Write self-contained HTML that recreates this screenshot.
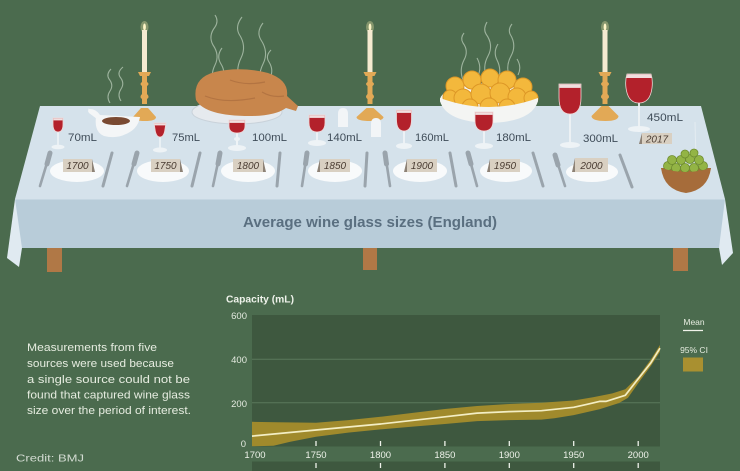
<!DOCTYPE html>
<html><head><meta charset="utf-8"><style>
html,body{margin:0;padding:0;background:#4b6b4e;}
svg{display:block;}
text{font-family:"Liberation Sans",sans-serif;}
</style></head><body>
<svg width="740" height="471" viewBox="0 0 740 471" xmlns="http://www.w3.org/2000/svg">
<rect x="0" y="0" width="740" height="471" fill="#4b6b4e"/>

<!-- steam -->
<g fill="none" stroke="#b9cbb8" stroke-width="1.1" opacity="0.75">
<path d="M110,103 q-4,-6 0,-12 q4,-6 -1,-12 q-3,-5 2,-10"/>
<path d="M121,101 q-4,-6 0,-12 q4,-6 -1,-12 q-3,-5 3,-10"/>
<path d="M214,85 q-4,-10 1,-20 q5,-10 -2,-20 q-5,-9 2,-18 q4,-6 0,-12"/>
<path d="M222,80 q4,-8 -1,-16 q-5,-8 1,-16"/>
<path d="M240,82 q-5,-12 1,-24 q6,-12 -2,-24 q-4,-8 3,-17"/>
<path d="M262,88 q-5,-12 1,-24 q6,-12 -2,-24 q-5,-8 2,-17"/>
<path d="M270,78 q4,-8 -1,-16 q-4,-6 2,-12"/>
<path d="M463,80 q-4,-10 1,-20 q5,-9 -1,-17 q-3,-5 1,-10"/>
<path d="M478,76 q4,-9 -1,-18"/>
<path d="M487,78 q-5,-11 1,-22 q6,-11 -2,-22 q-3,-5 1,-12"/>
<path d="M498,80 q4,-10 -1,-20 q-4,-8 1,-16"/>
<path d="M510,78 q-5,-11 1,-22 q6,-11 -1,-22 q-2,-5 2,-10"/>
<path d="M518,75 q4,-8 -1,-16"/>
</g>

<!-- table -->
<polygon points="40,106 701,106 725,199 15,199" fill="#d5e2eb"/>
<rect x="15" y="199" width="710" height="49" fill="#b8ccd9"/>
<line x1="15" y1="199.5" x2="725" y2="199.5" stroke="#c6d7e2" stroke-width="1"/>
<polygon points="15,199 22,248 19,267 7,258" fill="#e0eaf1"/>
<polygon points="725,199 719,248 722,265 733,253" fill="#e0eaf1"/>
<rect x="47" y="248" width="15" height="24" fill="#b07846"/>
<rect x="363" y="248" width="14" height="22" fill="#b07846"/>
<rect x="673" y="248" width="15" height="23" fill="#b07846"/>
<text x="370" y="227" text-anchor="middle" font-size="15" font-weight="bold" fill="#5a6f80" textLength="254" lengthAdjust="spacingAndGlyphs">Average wine glass sizes (England)</text>

<!-- candles -->
<g>
<ellipse cx="144.5" cy="27" rx="4" ry="6" fill="#f3e7a8" opacity="0.35"/>
<ellipse cx="144.5" cy="27" rx="1.4" ry="3.5" fill="#fff6c8"/>
<rect x="142" y="30" width="5" height="42" fill="#f5ead0"/>
<path d="M138,72 h13 l-2,4 h-9 z M142,76 h5 v6 q3,2 0,4 v8 q3,3 0,5 v5 h-5 v-5 q-3,-2 0,-5 v-8 q-3,-2 0,-4 z M141,108 h7 l8,9 q0,4 -11,4 q-12,0 -12,-4 z" fill="#e2a956"/>
</g>
<g>
<ellipse cx="370" cy="27" rx="4" ry="6" fill="#f3e7a8" opacity="0.35"/>
<ellipse cx="370" cy="27" rx="1.4" ry="3.5" fill="#fff6c8"/>
<rect x="367.5" y="30" width="5" height="42" fill="#f5ead0"/>
<path d="M363.5,72 h13 l-2,4 h-9 z M367.5,76 h5 v6 q3,2 0,4 v8 q3,3 0,5 v5 h-5 v-5 q-3,-2 0,-5 v-8 q-3,-2 0,-4 z M366.5,108 h7 l10,9 q0,4 -13,4 q-14,0 -14,-4 z" fill="#e2a956"/>
</g>
<g>
<ellipse cx="605" cy="27" rx="4" ry="6" fill="#f3e7a8" opacity="0.35"/>
<ellipse cx="605" cy="27" rx="1.4" ry="3.5" fill="#fff6c8"/>
<rect x="602.5" y="30" width="5" height="42" fill="#f5ead0"/>
<path d="M598.5,72 h13 l-2,4 h-9 z M602.5,76 h5 v6 q3,2 0,4 v8 q3,3 0,5 v5 h-5 v-5 q-3,-2 0,-5 v-8 q-3,-2 0,-4 z M601.5,106 h7 l10,10 q0,5 -13,5 q-14,0 -14,-5 z" fill="#e2a956"/>
</g>

<!-- gravy boat -->
<path d="M96,117 q-8,-8 -6,-6 q-4,-3 0,-2 q6,0 10,6 L140,117 q-2,12 -14,17 q-10,5 -22,2 q-10,-4 -8,-19 z" fill="#f4f6f7"/>
<path d="M89,113 q-3,-4 3,-3 l8,7 l-3,2 z" fill="#f4f6f7"/>
<ellipse cx="116" cy="121" rx="14" ry="4" fill="#7a4a32"/>

<!-- turkey -->
<ellipse cx="237" cy="112" rx="45" ry="12" fill="#e6eaee" stroke="#c9d2da" stroke-width="1"/>
<path d="M196,100 Q192,78 215,72 Q240,66 268,73 Q289,80 287,96 L298,106 L296,111 L286,108 Q275,116 250,116 Q205,116 196,100 Z" fill="#c8864c"/>
<path d="M205,96 q20,8 50,2 M230,80 q15,6 35,2 M262,92 q10,6 22,4" fill="none" stroke="#b37442" stroke-width="1.2"/>

<!-- potatoes -->
<ellipse cx="489" cy="100" rx="49" ry="17" fill="#f4f5f3"/>
<g fill="#f3b83c" stroke="#dd9726" stroke-width="1">
<circle cx="455" cy="86" r="9"/><circle cx="472" cy="80" r="9"/><circle cx="490" cy="78" r="9"/>
<circle cx="507" cy="80" r="9"/><circle cx="523" cy="87" r="9"/><circle cx="450" cy="97" r="7"/>
<circle cx="463" cy="98" r="9"/><circle cx="481" cy="94" r="10"/><circle cx="500" cy="93" r="10"/>
<circle cx="517" cy="97" r="9"/><circle cx="531" cy="98" r="7"/><circle cx="470" cy="107" r="8"/>
<circle cx="489" cy="107" r="9"/><circle cx="507" cy="107" r="8"/>
</g>
<path d="M440,98 Q489,116 538,98 L538,101 Q532,122 489,123 Q446,122 440,101 Z" fill="#f4f5f3"/>

<!-- salt shaker 1 -->
<path d="M338,127 v-13 q0,-6 5,-6 q5,0 5,6 v13 z" fill="#f2f5f7"/>
<path d="M371,137 v-13 q0,-6 5,-6 q5,0 5,6 v13 z" fill="#f2f5f7"/>

<!-- plates, cutlery, cards -->
<g stroke="#9aa4ac" stroke-linecap="round">
<line x1="50" y1="153" x2="40" y2="186" stroke-width="2.6"/><line x1="50" y1="153" x2="47" y2="164" stroke-width="5"/>
<line x1="112" y1="153" x2="103" y2="186" stroke-width="3"/>
<line x1="137" y1="153" x2="127" y2="186" stroke-width="2.6"/><line x1="137" y1="153" x2="134" y2="164" stroke-width="5"/>
<line x1="200" y1="153" x2="192" y2="186" stroke-width="3"/>
<line x1="220" y1="153" x2="213" y2="186" stroke-width="2.6"/><line x1="220" y1="153" x2="218" y2="164" stroke-width="5"/>
<line x1="280" y1="153" x2="277" y2="186" stroke-width="3"/>
<line x1="307" y1="153" x2="302" y2="186" stroke-width="2.6"/><line x1="307" y1="153" x2="305.5" y2="164" stroke-width="5"/>
<line x1="367" y1="153" x2="365" y2="186" stroke-width="3"/>
<line x1="385" y1="153" x2="390" y2="186" stroke-width="2.6"/><line x1="385" y1="153" x2="386.5" y2="164" stroke-width="5"/>
<line x1="450" y1="153" x2="456" y2="186" stroke-width="3"/>
<line x1="468" y1="153" x2="477" y2="186" stroke-width="2.6"/><line x1="468" y1="153" x2="471" y2="164" stroke-width="5"/>
<line x1="533" y1="153" x2="543" y2="186" stroke-width="3"/>
<line x1="555" y1="155" x2="565" y2="186" stroke-width="2.6"/><line x1="555" y1="155" x2="558" y2="165" stroke-width="5"/>
<line x1="620" y1="155" x2="632" y2="187" stroke-width="3"/>
</g>
<g fill="#f8fafb">
<ellipse cx="77" cy="171" rx="27" ry="11"/><ellipse cx="163" cy="171" rx="26" ry="11"/>
<ellipse cx="248" cy="171" rx="27" ry="11"/><ellipse cx="335" cy="171" rx="27" ry="11"/>
<ellipse cx="420" cy="171" rx="27" ry="11"/><ellipse cx="506" cy="171" rx="26" ry="11"/>
<ellipse cx="592" cy="172" rx="26" ry="10"/>
</g>
<g fill="#d9d0c2">
<rect x="63" y="159" width="29" height="13"/><rect x="151" y="159" width="29" height="13"/>
<rect x="233" y="159" width="30" height="13"/><rect x="320" y="159" width="30" height="13"/>
<rect x="407" y="159" width="30" height="13"/><rect x="490" y="159" width="30" height="13"/>
<rect x="575" y="158" width="33" height="14"/><rect x="642" y="133" width="30" height="11"/>
</g>
<g fill="#8d8276">
<polygon points="92,159 95,172 92,172"/><polygon points="180,159 183,172 180,172"/>
<polygon points="263,159 266,172 263,172"/><polygon points="320,159 317,172 320,172"/>
<polygon points="407,159 404,172 407,172"/><polygon points="490,159 487,172 490,172"/>
<polygon points="575,158 572,172 575,172"/><polygon points="642,133 639,144 642,144"/>
</g>
<g font-family="Liberation Serif, serif" font-style="italic" font-size="10" fill="#4a3c32" text-anchor="middle">
<text x="77.5" y="169">1700</text><text x="165.5" y="169">1750</text><text x="248" y="169">1800</text>
<text x="335" y="169">1850</text><text x="422" y="169">1900</text><text x="505" y="169">1950</text>
<text x="591.5" y="169">2000</text><text x="657" y="142.5">2017</text>
</g>

<!-- sprouts -->
<line x1="695" y1="122" x2="696" y2="160" stroke="#eef3f6" stroke-width="1" opacity="0.6"/>
<path d="M661,168 L711,168 Q708,190 686,193 Q664,190 661,168 Z" fill="#a66c3a"/>
<g fill="#93b445" stroke="#6f8d30" stroke-width="0.8">
<circle cx="668" cy="166" r="4.5"/><circle cx="676" cy="168" r="4.5"/><circle cx="685" cy="168" r="4.5"/>
<circle cx="694" cy="168" r="4.5"/><circle cx="703" cy="166" r="4.5"/><circle cx="672" cy="160" r="4.5"/>
<circle cx="681" cy="160" r="4.5"/><circle cx="690" cy="159" r="4.5"/><circle cx="699" cy="160" r="4.5"/>
<circle cx="685" cy="154" r="4"/><circle cx="694" cy="153" r="4"/>
</g>
<path d="M661,168 Q686,176 711,168 Q709,173 708,175 Q686,182 664,175 Z" fill="#a66c3a"/>

<!-- glasses -->
<g fill="#eef3f6">
<line x1="58" y1="132" x2="58" y2="147" stroke="#eef3f6" stroke-width="1.6"/><ellipse cx="58" cy="147" rx="6.5" ry="2.3"/>
<line x1="160" y1="137" x2="160" y2="150" stroke="#eef3f6" stroke-width="1.6"/><ellipse cx="160" cy="150" rx="7" ry="2.5"/>
<line x1="237" y1="133" x2="237" y2="148" stroke="#eef3f6" stroke-width="2"/><ellipse cx="237" cy="139" rx="3" ry="2"/><ellipse cx="237" cy="148" rx="9" ry="3"/>
<line x1="317" y1="132" x2="317" y2="143" stroke="#eef3f6" stroke-width="1.8"/><ellipse cx="317" cy="143" rx="9" ry="3"/>
<line x1="404" y1="131" x2="404" y2="147" stroke="#eef3f6" stroke-width="1.8"/><ellipse cx="404" cy="146" rx="8" ry="3"/>
<line x1="484" y1="131" x2="484" y2="147" stroke="#eef3f6" stroke-width="1.8"/><ellipse cx="484" cy="146" rx="9" ry="3"/>
<line x1="570" y1="114" x2="570" y2="145" stroke="#eef3f6" stroke-width="1.8"/><ellipse cx="570" cy="145" rx="10" ry="3"/>
<line x1="639" y1="103" x2="639" y2="129" stroke="#eef3f6" stroke-width="1.8"/><ellipse cx="639" cy="129" rx="11" ry="3"/>
</g>
<g fill="#b3212b" stroke="#efd6d6" stroke-width="0.8">
<path d="M53,118 L63,118 L63,124.3 Q63,132 58,132 Q53,132 53,124.3 Z"/>
<path d="M154,123 L166,123 L165,129 Q164,137 160,137 Q156,137 155,129 Z"/>
<path d="M229,120 L245,120 L245,125.9 Q245,133 237,133 Q229,133 229,125.9 Z"/>
<path d="M309,115 L325,115 L325,122.7 Q325,132 317,132 Q309,132 309,122.7 Z"/>
<path d="M396.5,110 L411.5,110 L411.5,119.5 Q411.5,131 404,131 Q396.5,131 396.5,119.5 Z"/>
<path d="M475,112 L493,112 L493,120.6 Q493,131 484,131 Q475,131 475,120.6 Z"/>
<path d="M559,84 L581,84 L581,97.5 Q581,114 570,114 Q559,114 559,97.5 Z"/>
<path d="M627,74 Q625,80 626,88 Q628,103 639,103 Q650,103 652,88 Q653,80 651,74 Z"/>
</g>
<g fill="#f1dede">
<rect x="53.5" y="118.4" width="9" height="2"/><rect x="154.5" y="123.4" width="11" height="2"/>
<rect x="229.5" y="120.4" width="15" height="2.5"/><rect x="309.5" y="115.4" width="15" height="2.5"/>
<rect x="397" y="110.4" width="14" height="2.5"/><rect x="475.5" y="112.4" width="17" height="2.5"/>
<rect x="559.5" y="84.4" width="21" height="3.5"/><path d="M627.5,74.4 L650.5,74.4 Q651.5,76 651.6,78 L626.4,78 Q626.5,76 627.5,74.4 Z"/>
</g>

<!-- glass labels -->
<g font-size="11" fill="#3f4c58">
<text x="68" y="141" textLength="29" lengthAdjust="spacingAndGlyphs">70mL</text>
<text x="172" y="141" textLength="28" lengthAdjust="spacingAndGlyphs">75mL</text>
<text x="252" y="141" textLength="35" lengthAdjust="spacingAndGlyphs">100mL</text>
<text x="327" y="141" textLength="35" lengthAdjust="spacingAndGlyphs">140mL</text>
<text x="415" y="141" textLength="34" lengthAdjust="spacingAndGlyphs">160mL</text>
<text x="496" y="141" textLength="35" lengthAdjust="spacingAndGlyphs">180mL</text>
<text x="583" y="142" textLength="35" lengthAdjust="spacingAndGlyphs">300mL</text>
<text x="647" y="121" textLength="36" lengthAdjust="spacingAndGlyphs">450mL</text>
</g>

<!-- left text -->
<g font-size="11" fill="#e6ece0">
<text x="27" y="351" textLength="130" lengthAdjust="spacingAndGlyphs">Measurements from five</text>
<text x="27" y="367" textLength="147" lengthAdjust="spacingAndGlyphs">sources were used because</text>
<text x="27" y="383" textLength="163" lengthAdjust="spacingAndGlyphs">a single source could not be</text>
<text x="27" y="398.5" textLength="163" lengthAdjust="spacingAndGlyphs">found that captured wine glass</text>
<text x="27" y="414" textLength="164" lengthAdjust="spacingAndGlyphs">size over the period of interest.</text>
</g>
<text x="16" y="461.5" font-size="10.5" fill="#d3dbd2" textLength="68" lengthAdjust="spacingAndGlyphs">Credit: BMJ</text>

<!-- chart -->
<text x="226" y="302.5" font-size="10" font-weight="bold" fill="#eef2ea" textLength="68" lengthAdjust="spacingAndGlyphs">Capacity (mL)</text>
<rect x="252" y="315" width="408" height="131.5" fill="#3e583f"/>
<rect x="252" y="461.5" width="408" height="10" fill="#3e583f"/>
<line x1="252" y1="359.3" x2="660" y2="359.3" stroke="#5a785b" stroke-width="1"/>
<line x1="252" y1="402.7" x2="660" y2="402.7" stroke="#5a785b" stroke-width="1"/>
<g font-size="9.5" fill="#e3e9df" text-anchor="end">
<text x="247" y="319">600</text><text x="247" y="363">400</text><text x="247" y="407">200</text><text x="246" y="447">0</text>
</g>
<path fill="#a08a2c" d="M252,421.8 L277.4,422.2 L316,422.7 L348.2,420.1 L380.5,416.8 L412.7,412.9 L444.9,409 L477.1,406 L509.3,404 L541.5,402.7 L573.7,400.5 L593,397.3 L612.4,393.4 L625.3,389.2 L638.2,376.7 L651,359.3 L660,345 L660,351.7 L651,365.8 L638.2,383.2 L627.9,397.9 L618.8,403.1 L599.5,409.2 L573.7,415.1 L554.4,418.3 L541.5,419.6 L509.3,420.1 L477.1,421.1 L444.9,424 L412.7,426.6 L380.5,429.4 L348.2,432.6 L316,436.8 L290.3,441.8 L273.5,445.7 L252,446.3 Z"/>
<polyline fill="none" stroke="#f3eec4" stroke-width="1.7" stroke-linejoin="round" points="252,436.1 316,430 380.5,424 444.9,416.8 477.1,413.1 509.3,411.6 541.5,410.7 573.7,407.3 586.6,404.4 599.5,401.4 605.9,401.4 625.3,395.3 638.2,378.8 651,362.6 660,348.2"/>
<g stroke="#eef2ea" stroke-width="1.3">
<line x1="316" y1="441" x2="316" y2="446"/><line x1="380.5" y1="441" x2="380.5" y2="446"/>
<line x1="444.9" y1="441" x2="444.9" y2="446"/><line x1="509.3" y1="441" x2="509.3" y2="446"/>
<line x1="573.7" y1="441" x2="573.7" y2="446"/><line x1="638.2" y1="441" x2="638.2" y2="446"/>
<line x1="316" y1="463" x2="316" y2="468"/><line x1="380.5" y1="463" x2="380.5" y2="468"/>
<line x1="444.9" y1="463" x2="444.9" y2="468"/><line x1="509.3" y1="463" x2="509.3" y2="468"/>
<line x1="573.7" y1="463" x2="573.7" y2="468"/><line x1="638.2" y1="463" x2="638.2" y2="468"/>
</g>
<g font-size="9.5" fill="#eef2ea" text-anchor="middle">
<text x="255" y="458">1700</text><text x="316" y="458">1750</text><text x="380.5" y="458">1800</text>
<text x="444.9" y="458">1850</text><text x="509.3" y="458">1900</text><text x="573.7" y="458">1950</text>
<text x="638.2" y="458">2000</text>
</g>
<text x="694" y="325" font-size="8.5" fill="#e6ece0" text-anchor="middle">Mean</text>
<line x1="683" y1="330.5" x2="703" y2="330.5" stroke="#f0f3ea" stroke-width="1.3"/>
<text x="694" y="353" font-size="8.5" fill="#e6ece0" text-anchor="middle">95% CI</text>
<rect x="683" y="357.5" width="20" height="14" fill="#a99030"/>
</svg>
</body></html>
